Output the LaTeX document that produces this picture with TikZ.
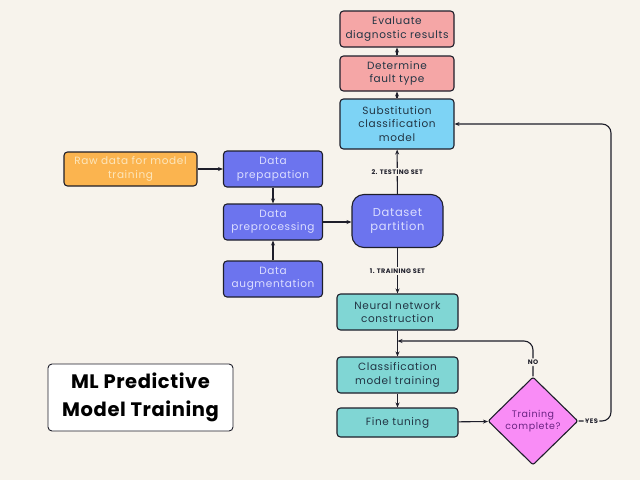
\documentclass[tikz,border=0pt]{standalone}
\usepackage{fontspec}
\setmainfont{Poppins}[LetterSpace=6]
\newfontfamily\titlefont{Poppins}[LetterSpace=3]
\usetikzlibrary{arrows.meta,shapes.geometric}
\definecolor{bg}{HTML}{F7F3EC}
\definecolor{edge}{HTML}{1E1E2A}
\definecolor{pinkf}{HTML}{F5A6A6}
\definecolor{bluef}{HTML}{7DD3F5}
\definecolor{orangef}{HTML}{FBB44F}
\definecolor{orangetx}{HTML}{FCE6BC}
\definecolor{purplef}{HTML}{6C74EE}
\definecolor{purpletx}{HTML}{DCDEFF}
\definecolor{tealf}{HTML}{80D6D4}
\definecolor{magf}{HTML}{F98CF6}
\definecolor{magtx}{HTML}{6A2382}
\definecolor{darktx}{HTML}{223544}
\begin{document}
\begin{tikzpicture}[x=1pt,y=-1pt,
  box/.style={draw=edge, line width=1.1pt, rounded corners=3.5pt, align=center,
    font=\fontsize{10.5}{13.5}\selectfont, inner sep=0pt, text=darktx},
  pinkbox/.style={box, fill=pinkf, minimum width=114pt},
  bluebox/.style={box, fill=bluef, minimum width=114pt},
  purplebox/.style={box, fill=purplef, text=purpletx, minimum width=99pt, minimum height=36pt},
  tealbox/.style={box, fill=tealf, minimum width=121pt},
  lbl/.style={fill=bg, inner sep=1.5pt, font=\fontsize{6.5}{7}\selectfont\bfseries, text=edge},
  arr/.style={draw=edge, line width=1.1pt, -{Stealth[length=5pt,width=4pt]}}]
\fill[bg] (0,0) rectangle (640,480);
\useasboundingbox (0,0) rectangle (640,480);

% right column top
\node[pinkbox, minimum height=36pt] (eval) at (397,29) {Evaluate\\diagnostic results};
\node[pinkbox, minimum height=35pt] (det) at (397,73.5) {Determine\\fault type};
\node[bluebox, minimum height=50pt] (sub) at (397,124) {Substitution\\classification\\model};

% left data nodes
\node[box, fill=orangef, text=orangetx, minimum width=133pt, minimum height=34pt] (raw) at (130.5,169) {Raw data for model\\training};
\node[purplebox] (prep) at (273,169) {Data\\prepapation};
\node[purplebox] (preproc) at (273,222) {Data\\preprocessing};
\node[purplebox] (aug) at (273,279) {Data\\augmentation};

% partition
\node[box, fill=purplef, text=purpletx, rounded corners=12pt, minimum width=91pt, minimum height=53pt,
  font=\fontsize{11.5}{14.5}\selectfont] (part) at (397.5,221) {Dataset\\partition};

% training column
\node[tealbox, minimum height=36pt] (nn) at (397.5,312) {Neural network\\construction};
\node[tealbox, minimum height=36pt] (cls) at (397.5,375) {Classification\\model training};
\node[tealbox, minimum height=29pt] (fine) at (397.5,422.5) {Fine tuning};

% decision
\node[diamond, draw=edge, line width=1.1pt, fill=magf, text=magtx, rounded corners=2pt,
  minimum width=90pt, minimum height=88pt, inner sep=0pt, align=center,
  font=\fontsize{9.5}{12}\selectfont] (dia) at (533,421) {Training\\complete?};

% title
\node[draw=edge, line width=0.9pt, fill=white, rounded corners=4pt, minimum width=185pt,
  minimum height=67pt, align=center, inner sep=0pt,
  font=\titlefont\fontsize{19.5}{28}\selectfont\bfseries, text=black] (title) at (140.5,397.5) {ML Predictive\\Model Training};

% connectors
\draw[arr] (sub) -- (det);
\draw[arr] (det) -- (eval);
\draw[arr] (raw) -- (prep);
\draw[arr] (prep) -- (preproc);
\draw[arr] (aug) -- (preproc);
\draw[arr] (preproc.east) -- (preproc.east -| part.west);
\draw[arr] (part) -- node[lbl]{2. TESTING SET} (sub);
\draw[arr] (part) -- node[lbl]{1. TRAINING SET} (nn);
\draw[arr] (nn) -- (cls);
\draw[arr] (cls) -- (fine);
\draw[arr] (fine) -- (dia);

\coordinate (noy) at (533,341);
\draw[arr, rounded corners=9pt] (dia.north) -- node[lbl, pos=0.4]{NO} (noy) -- (noy -| nn.south);

\coordinate (yesx) at (611,421);
\draw[arr, rounded corners=9pt] (dia.east) -- node[lbl, pos=0.4]{YES} (yesx) -- (yesx |- sub.east) -- (sub.east);
\end{tikzpicture}
\end{document}
